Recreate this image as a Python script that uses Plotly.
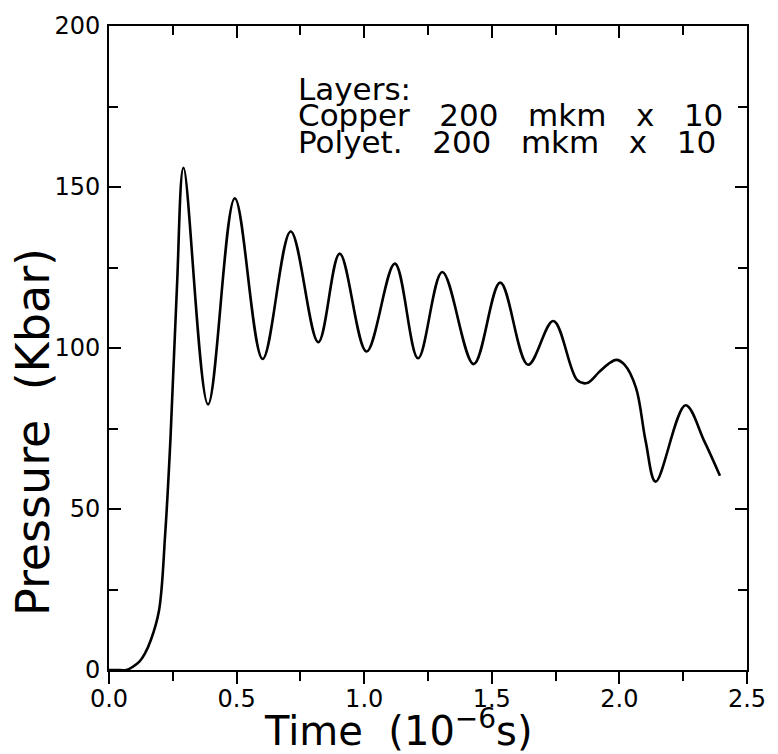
import plotly.graph_objects as go

# Pressure history behind a layered copper / polyethylene target
time_us = [0.0, 0.03, 0.068, 0.093, 0.119, 0.14, 0.164, 0.196, 0.22, 0.241,
           0.266, 0.292, 0.388, 0.493, 0.602, 0.712, 0.82, 0.904, 1.009,
           1.12, 1.211, 1.306, 1.429, 1.533, 1.642, 1.741,
           1.834, 1.873, 1.92, 1.956, 1.988, 2.02, 2.065, 2.103, 2.142,
           2.259, 2.333, 2.394]
pressure_kbar = [0.0, 0.0, 0.0, 1.0, 2.6, 5.0, 9.3, 18.5, 42.0, 72.0,
                 118.4, 156.0, 82.5, 146.5, 96.6, 136.2, 101.8, 129.3, 98.9,
                 126.2, 96.8, 123.6, 95.0, 120.3, 94.8, 108.4,
                 90.1, 89.1, 92.5, 95.0, 96.3, 94.8, 87.6, 71.0, 58.5,
                 82.2, 71.0, 60.3]

x_ticks = [0.0, 0.5, 1.0, 1.5, 2.0, 2.5]
x_tick_text = ["0.0", "0.5", "1.0", "1.5", "2.0", "2.5"]
y_ticks = [0, 50, 100, 150, 200]
y_tick_text = ["0", "50", "100", "150", "200"]

SP = "\u00a0"
legend_lines = [
    "Layers:",
    f"Copper{SP*3}200{SP*3}mkm{SP*3}x{SP*3}10",
    f"Polyet.{SP*3}200{SP*3}mkm{SP*3}x{SP*3}10",
]

FONT = "DejaVu Sans, Verdana, sans-serif"

# plot area in pixels
L, R, T, B = 109, 760, 22, 670
W, H = 778, 754


def px(xp):
    return (xp - L) / (R - L)


def py(yp):
    return (B - yp) / (B - T)


fig = go.Figure()
fig.add_trace(go.Scatter(
    x=time_us, y=pressure_kbar, mode="lines",
    line=dict(color="black", width=2.6, shape="spline", smoothing=1.0),
    showlegend=False, hoverinfo="skip",
))
# invisible trace carrying the top axis
fig.add_trace(go.Scatter(x=[0, 2.5], y=[0, 0], xaxis="x2", mode="lines",
                         line=dict(width=0), showlegend=False, hoverinfo="skip"))

fig.update_layout(
    width=W, height=H,
    margin=dict(l=L, r=W - R, t=T, b=H - B),
    paper_bgcolor="white", plot_bgcolor="white",
    font=dict(family=FONT, color="black", size=24),
    xaxis=dict(
        range=[0, 2.5], tickvals=x_ticks, ticktext=x_tick_text,
        ticks="outside", ticklen=12, tickwidth=2, tickcolor="black",
        minor=dict(dtick=0.25, ticks="outside", ticklen=9, tickwidth=2, tickcolor="black"),
        showline=True, linecolor="black", linewidth=2, mirror=True,
        showgrid=False, zeroline=False,
        tickfont=dict(size=24, family=FONT),
        ticklabelstandoff=-6,
        ticklabeloverflow="allow",
    ),
    xaxis2=dict(
        range=[0, 2.5], overlaying="x", side="top", anchor="y",
        tickvals=x_ticks, showticklabels=False,
        ticks="inside", ticklen=12, tickwidth=2, tickcolor="black",
        minor=dict(dtick=0.25, ticks="inside", ticklen=9, tickwidth=2, tickcolor="black"),
        showline=False, showgrid=False, zeroline=False,
    ),
    yaxis=dict(
        range=[0, 200], tickvals=y_ticks, ticktext=y_tick_text,
        ticks="inside", ticklen=12, tickwidth=2, tickcolor="black",
        minor=dict(dtick=25, ticks="inside", ticklen=9, tickwidth=2, tickcolor="black"),
        showline=True, linecolor="black", linewidth=2, mirror="ticks",
        showgrid=False, zeroline=False,
        tickfont=dict(size=24, family=FONT),
        ticklabelstandoff=2,
    ),
)

# axis titles
fig.add_annotation(text=f"Time{SP*2}(10<sup>\u22126</sup>s)", x=px(404), y=py(728),
                   xref="paper", yref="paper", xanchor="center", yanchor="middle",
                   showarrow=False, font=dict(size=40, family=FONT))
fig.add_annotation(text=f"Pressure{SP*2}(Kbar)", textangle=-90, showarrow=False,
                   xref="paper", yref="paper", x=px(32), y=py(431),
                   xanchor="center", yanchor="middle",
                   font=dict(size=46, family=FONT))

# layer description block, one annotation per line for tight spacing
line_centres = [85, 112, 139]
for txt, yc in zip(legend_lines, line_centres):
    fig.add_annotation(text=txt, x=px(300), y=py(yc), xref="paper", yref="paper",
                       xanchor="left", yanchor="middle", showarrow=False,
                       font=dict(size=31, family=FONT))

fig.write_html("out.html")
